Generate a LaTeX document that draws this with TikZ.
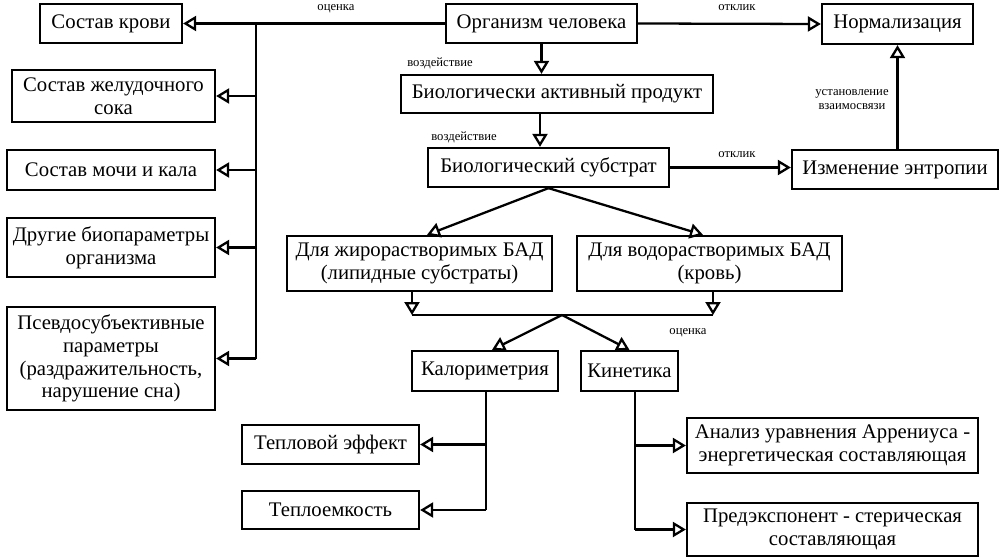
\documentclass[tikz,border=0pt]{standalone}
\usepackage{fontspec}
\setmainfont{Liberation Serif}
\newfontfamily\serifru{Liberation Serif}
\usetikzlibrary{arrows.meta}

\begin{document}
\begin{tikzpicture}[x=0.02cm, y=-0.02cm, line width=1.3pt,
        box/.style={draw, align=center, inner sep=1pt, font=\serifru\fontsize{11.8}{13}\selectfont},
        lbl/.style={inner sep=0pt, align=center, font=\serifru\fontsize{7.2}{8}\selectfont},
        arr/.style={-{Triangle[open, length=0.26cm, width=0.3cm]}}]
            \useasboundingbox (0, 0) rectangle (1001, 557);

            \node[box, minimum width=2.84cm, minimum height=0.78cm] (krov) at (111, 23.5) {Состав крови};
            \node[box, minimum width=3.82cm, minimum height=0.78cm] (org) at (541.5, 23.5) {Организм человека};
            \node[box, minimum width=3.02cm, minimum height=0.80cm] (norm) at (897.5, 24) {Нормализация};
            \node[box, minimum width=4.06cm, minimum height=1.04cm] (zhel) at (113.5, 96) {Состав желудочного\\сока};
            \node[box, minimum width=6.24cm, minimum height=0.76cm] (bap) at (557, 94) {Биологически активный продукт};
            \node[box, minimum width=4.16cm, minimum height=0.80cm] (mocha) at (111, 170) {Состав мочи и кала};
            \node[box, minimum width=4.82cm, minimum height=0.78cm] (subst) at (548.5, 167.5) {Биологический субстрат};
            \node[box, minimum width=4.12cm, minimum height=0.78cm] (entr) at (895, 169.5) {Изменение энтропии};
            \node[box, minimum width=4.16cm, minimum height=1.18cm] (drug) at (111, 247.5) {Другие биопараметры\\организма};
            \node[box, minimum width=5.30cm, minimum height=1.10cm] (fat) at (419.5, 263.5) {Для жирорастворимых БАД\\(липидные субстраты)};
            \node[box, minimum width=5.30cm, minimum height=1.10cm] (water) at (709.5, 263.5) {Для водорастворимых БАД\\(кровь)};
            \node[box, minimum width=4.16cm, minimum height=2.06cm] (pseudo) at (111, 358.5) {Псевдосубъективные\\параметры\\(раздражительность,\\нарушение сна)};
            \node[box, minimum width=2.92cm, minimum height=0.80cm] (kal) at (485, 371) {Калориметрия};
            \node[box, minimum width=1.94cm, minimum height=0.80cm] (kin) at (629.5, 371) {Кинетика};
            \node[box, minimum width=3.54cm, minimum height=0.78cm] (tepl) at (330.5, 444.5) {Тепловой эффект};
            \node[box, minimum width=3.54cm, minimum height=0.76cm] (tepem) at (330.5, 510) {Теплоемкость};
            \node[box, minimum width=5.82cm, minimum height=1.10cm] (arrh) at (832.5, 445.5) {Анализ уравнения Аррениуса -\\энергетическая составляющая};
            \node[box, minimum width=5.82cm, minimum height=1.06cm] (pred) at (832.5, 529.5) {Предэкспонент - стерическая\\составляющая};

            \node[lbl] (l1) at (336, 9) {оценка};
            \node[lbl] (l2) at (737, 8) {отклик};
            \node[lbl] (l3) at (440, 63) {воздействие};
            \node[lbl] (l4) at (464, 137) {воздействие};
            \node[lbl] (l5) at (737, 155) {отклик};
            \node[lbl] (l6) at (852, 100) {установление\\взаимосвязи};
            \node[lbl] (l7) at (688, 333) {оценка};

            \draw[arr] (org.west) -- (krov.east);
            \coordinate (tr) at (256, 23.5);
            \draw (tr) -- (tr |- pseudo.east);
            \foreach \n in {zhel, mocha, drug, pseudo} {
                \draw[arr] (tr |- \n.east) -- (\n.east);
            }

            \draw[arr] (org.east) -- (norm.west);
            \draw[arr] (org.south) -- (org.south |- bap.north);
            \coordinate (a1) at (540, 0);
            \draw[arr] (a1 |- bap.south) -- (a1 |- subst.north);
            \draw[arr] (subst.east) -- (subst.east -| entr.west);
            \draw[arr] (entr.north -| norm.south) -- (norm.south);

            \draw[arr] (subst.south) -- ([xshift=0.15cm]fat.north);
            \draw[arr] (subst.south) -- ([xshift=-0.13cm]water.north);

            \coordinate (bus) at (562, 315);
            \coordinate (f1) at (412, 315);
            \coordinate (w1) at (713, 315);
            \draw[arr] (f1 |- fat.south) -- (f1);
            \draw[arr] (w1 |- water.south) -- (w1);
            \draw (f1) -- (w1);
            \draw[arr] (bus) -- ([xshift=0.14cm]kal.north);
            \draw[arr] (bus) -- (kin.north);

            \coordinate (k1) at (486, 0);
            \draw (k1 |- kal.south) -- (k1 |- tepem.east);
            \foreach \n in {tepl, tepem} {
                \draw[arr] (k1 |- \n.east) -- (\n.east);
            }
            \coordinate (k2) at (635, 0);
            \draw (k2 |- kin.south) -- (k2 |- pred.west);
            \foreach \n in {arrh, pred} {
                \draw[arr] (k2 |- \n.west) -- (\n.west);
            }
        \end{tikzpicture}
\end{document}
